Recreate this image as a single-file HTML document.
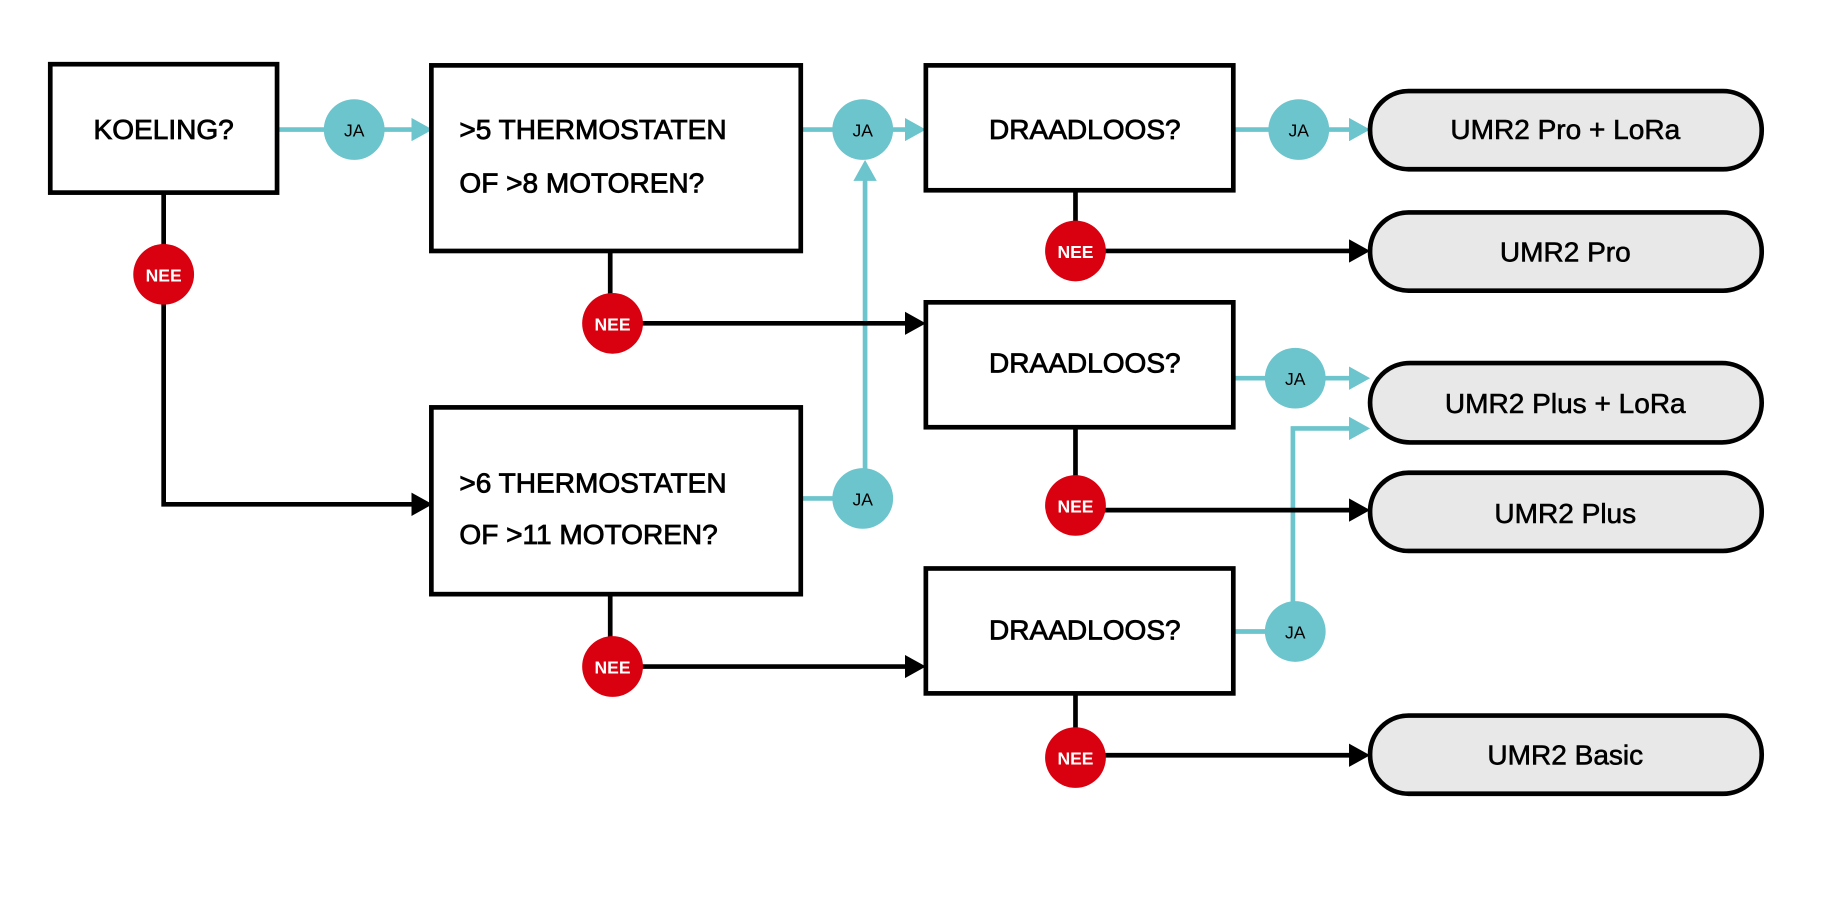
<!DOCTYPE html>
<html><head><meta charset="utf-8"><style>
html,body{margin:0;padding:0;background:#fff;}
svg{display:block;}
text{font-family:"Liberation Sans",sans-serif;}
.t{font-size:24px;fill:#000;stroke:#000;stroke-width:0.7px;}
.l{font-size:15px;text-anchor:middle;}
</style></head><body>
<svg width="1833" height="914" viewBox="0 0 1568 783" preserveAspectRatio="none" xmlns="http://www.w3.org/2000/svg">
<defs>
<marker id="ab" markerWidth="4.5" markerHeight="5" refX="3.5" refY="2.5" orient="auto" markerUnits="strokeWidth"><path d="M0,0 L4.5,2.5 L0,5 z" fill="#000"/></marker>
<marker id="at" markerWidth="4.5" markerHeight="5" refX="3.5" refY="2.5" orient="auto" markerUnits="strokeWidth"><path d="M0,0 L4.5,2.5 L0,5 z" fill="#6cc4cc"/></marker>
</defs>
<g fill="none" stroke-width="4">
<g stroke="#6cc4cc">
<line x1="237" y1="111" x2="366" y2="111" marker-end="url(#at)"/>
<line x1="685" y1="111" x2="788" y2="111" marker-end="url(#at)"/>
<line x1="740" y1="427" x2="740" y2="141" marker-end="url(#at)"/>
<line x1="685" y1="427" x2="740" y2="427"/>
<line x1="1055" y1="111" x2="1168" y2="111" marker-end="url(#at)"/>
<line x1="1055" y1="324" x2="1168" y2="324" marker-end="url(#at)"/>
<line x1="1055" y1="541" x2="1106" y2="541"/>
<polyline points="1106,541 1106,367 1168,367" marker-end="url(#at)"/>
</g>
<g stroke="#000">
<polyline points="140,165 140,432 366,432" marker-end="url(#ab)"/>
<polyline points="522,215 522,277 788,277" marker-end="url(#ab)"/>
<polyline points="522,509 522,571 788,571" marker-end="url(#ab)"/>
<polyline points="920,163 920,215 1168,215" marker-end="url(#ab)"/>
<polyline points="920,366 920,437 1168,437" marker-end="url(#ab)"/>
<polyline points="920,594 920,647 1168,647" marker-end="url(#ab)"/>
</g>
<g stroke="#000" fill="#fff">
<rect x="43" y="55" width="194" height="110"/>
<rect x="369" y="56" width="316" height="159"/>
<rect x="369" y="349" width="316" height="160"/>
<rect x="792" y="56" width="263" height="107"/>
<rect x="792" y="259" width="263" height="107"/>
<rect x="792" y="487" width="263" height="107"/>
</g>
<g stroke="#000" fill="#e8e8e8">
<rect x="1172" y="78" width="335" height="67" rx="33"/>
<rect x="1172" y="182" width="335" height="67" rx="33"/>
<rect x="1172" y="311" width="335" height="68" rx="34"/>
<rect x="1172" y="405" width="335" height="67" rx="33"/>
<rect x="1172" y="613" width="335" height="67" rx="33"/>
</g>
</g>
<g fill="#6cc4cc">
<circle cx="303" cy="111" r="26"/><circle cx="738" cy="111" r="26"/><circle cx="738" cy="427" r="26"/>
<circle cx="1111" cy="111" r="26"/><circle cx="1108" cy="324" r="26"/><circle cx="1108" cy="541" r="26"/>
</g>
<g fill="#d9000f">
<circle cx="140" cy="235" r="26"/><circle cx="524" cy="277" r="26"/><circle cx="524" cy="571" r="26"/>
<circle cx="920" cy="215" r="26"/><circle cx="920" cy="433" r="26"/><circle cx="920" cy="649" r="26"/>
</g>
<g class="l" fill="#000">
<text x="303" y="117">JA</text><text x="738" y="117">JA</text><text x="738" y="433">JA</text>
<text x="1111" y="117">JA</text><text x="1108" y="330">JA</text><text x="1108" y="547">JA</text>
</g>
<g class="l" fill="#fff" font-weight="bold">
<text x="140" y="241">NEE</text><text x="524" y="283">NEE</text><text x="524" y="577">NEE</text>
<text x="920" y="221">NEE</text><text x="920" y="439">NEE</text><text x="920" y="655">NEE</text>
</g>
<g class="t">
<text x="140" y="119" text-anchor="middle">KOELING?</text>
<text x="393" y="119">&gt;5 THERMOSTATEN</text>
<text x="393" y="165">OF &gt;8 MOTOREN?</text>
<text x="393" y="422">&gt;6 THERMOSTATEN</text>
<text x="393" y="466">OF &gt;11 MOTOREN?</text>
<text x="928" y="119" text-anchor="middle">DRAADLOOS?</text>
<text x="928" y="319" text-anchor="middle">DRAADLOOS?</text>
<text x="928" y="548" text-anchor="middle">DRAADLOOS?</text>
<g text-anchor="middle" style="stroke-width:0.5px">
<text x="1339" y="119">UMR2 Pro + LoRa</text>
<text x="1339" y="224">UMR2 Pro</text>
<text x="1339" y="354">UMR2 Plus + LoRa</text>
<text x="1339" y="448">UMR2 Plus</text>
<text x="1339" y="655">UMR2 Basic</text>
</g>
</g>
</svg>
</body></html>
